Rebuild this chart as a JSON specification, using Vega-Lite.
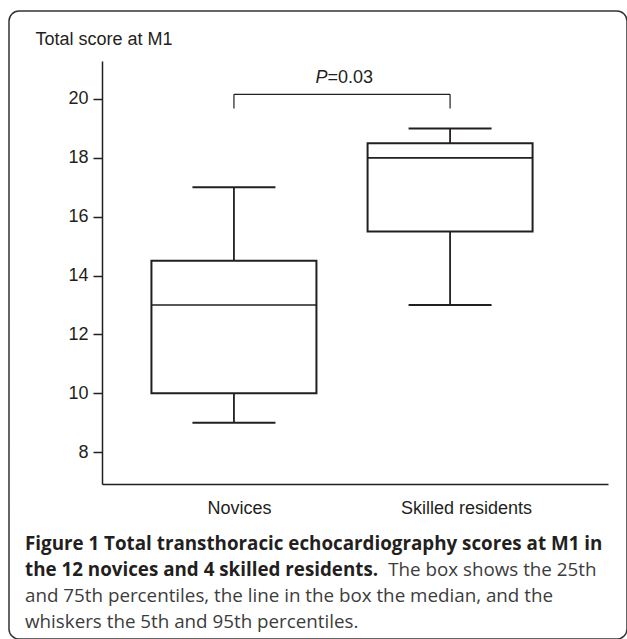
{
  "$schema": "https://vega.github.io/schema/vega-lite/v6.json",
  "width": 618,
  "height": 628,
  "autosize": {"type": "none"},
  "padding": {"left": 9, "top": 11, "right": 0, "bottom": 0},
  "background": "white",
  "config": {
    "view": {"stroke": "#333333", "strokeWidth": 1.5, "cornerRadius": 10, "fill": "white"},
    "font": "Liberation Sans"
  },
  "title": {
    "text": ["Figure 1 Total transthoracic echocardiography scores at M1 in", "the 12 novices and 4 skilled residents."],
    "subtitle": ["and 75th percentiles, the line in the box the median, and the", "whiskers the 5th and 95th percentiles."],
    "orient": "bottom",
    "anchor": "start",
    "frame": "group",
    "align": "left",
    "offset": -104.5,
    "dx": 16,
    "font": "Open Sans",
    "fontSize": 18.8,
    "fontWeight": "bold",
    "color": "#231f20",
    "lineHeight": 26,
    "subtitleFont": "Open Sans",
    "subtitleFontSize": 18.8,
    "subtitleFontWeight": "normal",
    "subtitleColor": "#3c3c3c",
    "subtitleLineHeight": 26,
    "subtitlePadding": 7.2
  },
  "datasets": {
    "boxes": [
      {"group": "Novices", "pos": 1, "lo": 9, "q1": 10, "med": 13, "q3": 14.5, "hi": 17},
      {"group": "Skilled residents", "pos": 2, "lo": 13, "q1": 15.5, "med": 18, "q3": 18.5, "hi": 19}
    ],
    "bracket": [{"pos": 1, "pos2": 2, "val": 20.16}],
    "legs": [
      {"pos": 1, "lo": 19.68, "hi": 20.16},
      {"pos": 2, "lo": 19.68, "hi": 20.16}
    ],
    "ptext": [{"pos": 1.5, "val": 20.53}]
  },
  "layer": [
    {
      "data": {"name": "boxes"},
      "mark": {"type": "rule", "color": "#231f20", "strokeWidth": 1.8},
      "encoding": {
        "x": {"field": "pos", "type": "quantitative",
          "scale": {"domain": [0.4127, 2.7075], "range": [93, 599], "nice": false, "zero": false},
          "axis": {"orient": "bottom", "offset": -155, "values": [1, 2], "labelExpr": "datum.value == 1 ? 'Novices' : 'Skilled residents'", "ticks": false, "tickSize": 0, "grid": false, "domainColor": "#231f20", "domainWidth": 1.5, "labelFont": "Liberation Sans", "labelFontSize": 18, "labelColor": "#231f20", "labelPadding": 15, "labelFlush": false, "labelOverlap": false, "labelOffset": {"condition": {"test": "datum.value == 2", "value": 16}, "value": 5}, "title": "The box shows the 25th", "titleX": 378.7, "titleY": 91.4, "titleAlign": "left", "titleBaseline": "alphabetic", "titleAngle": 0, "titleFont": "Open Sans", "titleFontSize": 18.8, "titleFontWeight": "normal", "titleColor": "#3c3c3c"}},
        "y": {"field": "lo", "type": "quantitative",
          "scale": {"domain": [6.918, 21.291], "range": [473, 50], "nice": false, "zero": false},
          "axis": {"orient": "left", "offset": -93, "values": [8, 10, 12, 14, 16, 18, 20], "tickSize": 9, "tickWidth": 1.5, "tickColor": "#231f20", "domainColor": "#231f20", "domainWidth": 1.5, "grid": false, "labelFont": "Liberation Sans", "labelFontSize": 18, "labelColor": "#231f20", "labelPadding": 5, "title": "Total score at M1", "titleAngle": 0, "titleAlign": "left", "titleBaseline": "alphabetic", "titleX": -67, "titleY": 33, "titleFont": "Liberation Sans", "titleFontSize": 18, "titleFontWeight": "normal", "titleColor": "#231f20"}},
        "y2": {"field": "hi"}
      }
    },
    {
      "data": {"name": "boxes"},
      "mark": {"type": "tick", "orient": "horizontal", "color": "#231f20", "size": 83, "thickness": 2, "opacity": 1},
      "encoding": {
        "x": {"field": "pos", "type": "quantitative",
          "scale": {"domain": [0.4127, 2.7075], "range": [93, 599], "nice": false, "zero": false},
          "axis": {"orient": "bottom", "offset": -155, "values": [1, 2], "labelExpr": "datum.value == 1 ? 'Novices' : 'Skilled residents'", "ticks": false, "tickSize": 0, "grid": false, "domainColor": "#231f20", "domainWidth": 1.5, "labelFont": "Liberation Sans", "labelFontSize": 18, "labelColor": "#231f20", "labelPadding": 15, "labelFlush": false, "labelOverlap": false, "labelOffset": {"condition": {"test": "datum.value == 2", "value": 16}, "value": 5}, "title": "The box shows the 25th", "titleX": 378.7, "titleY": 91.4, "titleAlign": "left", "titleBaseline": "alphabetic", "titleAngle": 0, "titleFont": "Open Sans", "titleFontSize": 18.8, "titleFontWeight": "normal", "titleColor": "#3c3c3c"}},
        "y": {"field": "lo", "type": "quantitative",
          "scale": {"domain": [6.918, 21.291], "range": [473, 50], "nice": false, "zero": false},
          "axis": {"orient": "left", "offset": -93, "values": [8, 10, 12, 14, 16, 18, 20], "tickSize": 9, "tickWidth": 1.5, "tickColor": "#231f20", "domainColor": "#231f20", "domainWidth": 1.5, "grid": false, "labelFont": "Liberation Sans", "labelFontSize": 18, "labelColor": "#231f20", "labelPadding": 5, "title": "Total score at M1", "titleAngle": 0, "titleAlign": "left", "titleBaseline": "alphabetic", "titleX": -67, "titleY": 33, "titleFont": "Liberation Sans", "titleFontSize": 18, "titleFontWeight": "normal", "titleColor": "#231f20"}}
      }
    },
    {
      "data": {"name": "boxes"},
      "mark": {"type": "tick", "orient": "horizontal", "color": "#231f20", "size": 83, "thickness": 2, "opacity": 1},
      "encoding": {
        "x": {"field": "pos", "type": "quantitative",
          "scale": {"domain": [0.4127, 2.7075], "range": [93, 599], "nice": false, "zero": false},
          "axis": {"orient": "bottom", "offset": -155, "values": [1, 2], "labelExpr": "datum.value == 1 ? 'Novices' : 'Skilled residents'", "ticks": false, "tickSize": 0, "grid": false, "domainColor": "#231f20", "domainWidth": 1.5, "labelFont": "Liberation Sans", "labelFontSize": 18, "labelColor": "#231f20", "labelPadding": 15, "labelFlush": false, "labelOverlap": false, "labelOffset": {"condition": {"test": "datum.value == 2", "value": 16}, "value": 5}, "title": "The box shows the 25th", "titleX": 378.7, "titleY": 91.4, "titleAlign": "left", "titleBaseline": "alphabetic", "titleAngle": 0, "titleFont": "Open Sans", "titleFontSize": 18.8, "titleFontWeight": "normal", "titleColor": "#3c3c3c"}},
        "y": {"field": "hi", "type": "quantitative",
          "scale": {"domain": [6.918, 21.291], "range": [473, 50], "nice": false, "zero": false},
          "axis": {"orient": "left", "offset": -93, "values": [8, 10, 12, 14, 16, 18, 20], "tickSize": 9, "tickWidth": 1.5, "tickColor": "#231f20", "domainColor": "#231f20", "domainWidth": 1.5, "grid": false, "labelFont": "Liberation Sans", "labelFontSize": 18, "labelColor": "#231f20", "labelPadding": 5, "title": "Total score at M1", "titleAngle": 0, "titleAlign": "left", "titleBaseline": "alphabetic", "titleX": -67, "titleY": 33, "titleFont": "Liberation Sans", "titleFontSize": 18, "titleFontWeight": "normal", "titleColor": "#231f20"}}
      }
    },
    {
      "data": {"name": "boxes"},
      "mark": {"type": "bar", "fill": "white", "stroke": "#231f20", "strokeWidth": 2, "size": 165, "strokeJoin": "miter"},
      "encoding": {
        "x": {"field": "pos", "type": "quantitative",
          "scale": {"domain": [0.4127, 2.7075], "range": [93, 599], "nice": false, "zero": false},
          "axis": {"orient": "bottom", "offset": -155, "values": [1, 2], "labelExpr": "datum.value == 1 ? 'Novices' : 'Skilled residents'", "ticks": false, "tickSize": 0, "grid": false, "domainColor": "#231f20", "domainWidth": 1.5, "labelFont": "Liberation Sans", "labelFontSize": 18, "labelColor": "#231f20", "labelPadding": 15, "labelFlush": false, "labelOverlap": false, "labelOffset": {"condition": {"test": "datum.value == 2", "value": 16}, "value": 5}, "title": "The box shows the 25th", "titleX": 378.7, "titleY": 91.4, "titleAlign": "left", "titleBaseline": "alphabetic", "titleAngle": 0, "titleFont": "Open Sans", "titleFontSize": 18.8, "titleFontWeight": "normal", "titleColor": "#3c3c3c"}},
        "y": {"field": "q1", "type": "quantitative",
          "scale": {"domain": [6.918, 21.291], "range": [473, 50], "nice": false, "zero": false},
          "axis": {"orient": "left", "offset": -93, "values": [8, 10, 12, 14, 16, 18, 20], "tickSize": 9, "tickWidth": 1.5, "tickColor": "#231f20", "domainColor": "#231f20", "domainWidth": 1.5, "grid": false, "labelFont": "Liberation Sans", "labelFontSize": 18, "labelColor": "#231f20", "labelPadding": 5, "title": "Total score at M1", "titleAngle": 0, "titleAlign": "left", "titleBaseline": "alphabetic", "titleX": -67, "titleY": 33, "titleFont": "Liberation Sans", "titleFontSize": 18, "titleFontWeight": "normal", "titleColor": "#231f20"}},
        "y2": {"field": "q3"}
      }
    },
    {
      "data": {"name": "boxes"},
      "mark": {"type": "tick", "orient": "horizontal", "color": "#231f20", "size": 165, "thickness": 1.6, "opacity": 1},
      "encoding": {
        "x": {"field": "pos", "type": "quantitative",
          "scale": {"domain": [0.4127, 2.7075], "range": [93, 599], "nice": false, "zero": false},
          "axis": {"orient": "bottom", "offset": -155, "values": [1, 2], "labelExpr": "datum.value == 1 ? 'Novices' : 'Skilled residents'", "ticks": false, "tickSize": 0, "grid": false, "domainColor": "#231f20", "domainWidth": 1.5, "labelFont": "Liberation Sans", "labelFontSize": 18, "labelColor": "#231f20", "labelPadding": 15, "labelFlush": false, "labelOverlap": false, "labelOffset": {"condition": {"test": "datum.value == 2", "value": 16}, "value": 5}, "title": "The box shows the 25th", "titleX": 378.7, "titleY": 91.4, "titleAlign": "left", "titleBaseline": "alphabetic", "titleAngle": 0, "titleFont": "Open Sans", "titleFontSize": 18.8, "titleFontWeight": "normal", "titleColor": "#3c3c3c"}},
        "y": {"field": "med", "type": "quantitative",
          "scale": {"domain": [6.918, 21.291], "range": [473, 50], "nice": false, "zero": false},
          "axis": {"orient": "left", "offset": -93, "values": [8, 10, 12, 14, 16, 18, 20], "tickSize": 9, "tickWidth": 1.5, "tickColor": "#231f20", "domainColor": "#231f20", "domainWidth": 1.5, "grid": false, "labelFont": "Liberation Sans", "labelFontSize": 18, "labelColor": "#231f20", "labelPadding": 5, "title": "Total score at M1", "titleAngle": 0, "titleAlign": "left", "titleBaseline": "alphabetic", "titleX": -67, "titleY": 33, "titleFont": "Liberation Sans", "titleFontSize": 18, "titleFontWeight": "normal", "titleColor": "#231f20"}}
      }
    },
    {
      "data": {"name": "bracket"},
      "mark": {"type": "rule", "color": "#231f20", "strokeWidth": 1.2},
      "encoding": {
        "x": {"field": "pos", "type": "quantitative",
          "scale": {"domain": [0.4127, 2.7075], "range": [93, 599], "nice": false, "zero": false},
          "axis": {"orient": "bottom", "offset": -155, "values": [1, 2], "labelExpr": "datum.value == 1 ? 'Novices' : 'Skilled residents'", "ticks": false, "tickSize": 0, "grid": false, "domainColor": "#231f20", "domainWidth": 1.5, "labelFont": "Liberation Sans", "labelFontSize": 18, "labelColor": "#231f20", "labelPadding": 15, "labelFlush": false, "labelOverlap": false, "labelOffset": {"condition": {"test": "datum.value == 2", "value": 16}, "value": 5}, "title": "The box shows the 25th", "titleX": 378.7, "titleY": 91.4, "titleAlign": "left", "titleBaseline": "alphabetic", "titleAngle": 0, "titleFont": "Open Sans", "titleFontSize": 18.8, "titleFontWeight": "normal", "titleColor": "#3c3c3c"}},
        "x2": {"field": "pos2"},
        "y": {"field": "val", "type": "quantitative",
          "scale": {"domain": [6.918, 21.291], "range": [473, 50], "nice": false, "zero": false},
          "axis": {"orient": "left", "offset": -93, "values": [8, 10, 12, 14, 16, 18, 20], "tickSize": 9, "tickWidth": 1.5, "tickColor": "#231f20", "domainColor": "#231f20", "domainWidth": 1.5, "grid": false, "labelFont": "Liberation Sans", "labelFontSize": 18, "labelColor": "#231f20", "labelPadding": 5, "title": "Total score at M1", "titleAngle": 0, "titleAlign": "left", "titleBaseline": "alphabetic", "titleX": -67, "titleY": 33, "titleFont": "Liberation Sans", "titleFontSize": 18, "titleFontWeight": "normal", "titleColor": "#231f20"}}
      }
    },
    {
      "data": {"name": "legs"},
      "mark": {"type": "rule", "color": "#231f20", "strokeWidth": 1.2},
      "encoding": {
        "x": {"field": "pos", "type": "quantitative",
          "scale": {"domain": [0.4127, 2.7075], "range": [93, 599], "nice": false, "zero": false},
          "axis": {"orient": "bottom", "offset": -155, "values": [1, 2], "labelExpr": "datum.value == 1 ? 'Novices' : 'Skilled residents'", "ticks": false, "tickSize": 0, "grid": false, "domainColor": "#231f20", "domainWidth": 1.5, "labelFont": "Liberation Sans", "labelFontSize": 18, "labelColor": "#231f20", "labelPadding": 15, "labelFlush": false, "labelOverlap": false, "labelOffset": {"condition": {"test": "datum.value == 2", "value": 16}, "value": 5}, "title": "The box shows the 25th", "titleX": 378.7, "titleY": 91.4, "titleAlign": "left", "titleBaseline": "alphabetic", "titleAngle": 0, "titleFont": "Open Sans", "titleFontSize": 18.8, "titleFontWeight": "normal", "titleColor": "#3c3c3c"}},
        "y": {"field": "lo", "type": "quantitative",
          "scale": {"domain": [6.918, 21.291], "range": [473, 50], "nice": false, "zero": false},
          "axis": {"orient": "left", "offset": -93, "values": [8, 10, 12, 14, 16, 18, 20], "tickSize": 9, "tickWidth": 1.5, "tickColor": "#231f20", "domainColor": "#231f20", "domainWidth": 1.5, "grid": false, "labelFont": "Liberation Sans", "labelFontSize": 18, "labelColor": "#231f20", "labelPadding": 5, "title": "Total score at M1", "titleAngle": 0, "titleAlign": "left", "titleBaseline": "alphabetic", "titleX": -67, "titleY": 33, "titleFont": "Liberation Sans", "titleFontSize": 18, "titleFontWeight": "normal", "titleColor": "#231f20"}},
        "y2": {"field": "hi"}
      }
    },
    {
      "data": {"name": "ptext"},
      "mark": {"type": "text", "text": "P", "fontStyle": "italic", "font": "Liberation Sans", "fontSize": 18, "align": "left", "baseline": "alphabetic", "dx": -26.5, "color": "#231f20"},
      "encoding": {
        "x": {"field": "pos", "type": "quantitative",
          "scale": {"domain": [0.4127, 2.7075], "range": [93, 599], "nice": false, "zero": false},
          "axis": {"orient": "bottom", "offset": -155, "values": [1, 2], "labelExpr": "datum.value == 1 ? 'Novices' : 'Skilled residents'", "ticks": false, "tickSize": 0, "grid": false, "domainColor": "#231f20", "domainWidth": 1.5, "labelFont": "Liberation Sans", "labelFontSize": 18, "labelColor": "#231f20", "labelPadding": 15, "labelFlush": false, "labelOverlap": false, "labelOffset": {"condition": {"test": "datum.value == 2", "value": 16}, "value": 5}, "title": "The box shows the 25th", "titleX": 378.7, "titleY": 91.4, "titleAlign": "left", "titleBaseline": "alphabetic", "titleAngle": 0, "titleFont": "Open Sans", "titleFontSize": 18.8, "titleFontWeight": "normal", "titleColor": "#3c3c3c"}},
        "y": {"field": "val", "type": "quantitative",
          "scale": {"domain": [6.918, 21.291], "range": [473, 50], "nice": false, "zero": false},
          "axis": {"orient": "left", "offset": -93, "values": [8, 10, 12, 14, 16, 18, 20], "tickSize": 9, "tickWidth": 1.5, "tickColor": "#231f20", "domainColor": "#231f20", "domainWidth": 1.5, "grid": false, "labelFont": "Liberation Sans", "labelFontSize": 18, "labelColor": "#231f20", "labelPadding": 5, "title": "Total score at M1", "titleAngle": 0, "titleAlign": "left", "titleBaseline": "alphabetic", "titleX": -67, "titleY": 33, "titleFont": "Liberation Sans", "titleFontSize": 18, "titleFontWeight": "normal", "titleColor": "#231f20"}}
      }
    },
    {
      "data": {"name": "ptext"},
      "mark": {"type": "text", "text": "=0.03", "font": "Liberation Sans", "fontSize": 18, "align": "left", "baseline": "alphabetic", "dx": -14.5, "color": "#231f20"},
      "encoding": {
        "x": {"field": "pos", "type": "quantitative",
          "scale": {"domain": [0.4127, 2.7075], "range": [93, 599], "nice": false, "zero": false},
          "axis": {"orient": "bottom", "offset": -155, "values": [1, 2], "labelExpr": "datum.value == 1 ? 'Novices' : 'Skilled residents'", "ticks": false, "tickSize": 0, "grid": false, "domainColor": "#231f20", "domainWidth": 1.5, "labelFont": "Liberation Sans", "labelFontSize": 18, "labelColor": "#231f20", "labelPadding": 15, "labelFlush": false, "labelOverlap": false, "labelOffset": {"condition": {"test": "datum.value == 2", "value": 16}, "value": 5}, "title": "The box shows the 25th", "titleX": 378.7, "titleY": 91.4, "titleAlign": "left", "titleBaseline": "alphabetic", "titleAngle": 0, "titleFont": "Open Sans", "titleFontSize": 18.8, "titleFontWeight": "normal", "titleColor": "#3c3c3c"}},
        "y": {"field": "val", "type": "quantitative",
          "scale": {"domain": [6.918, 21.291], "range": [473, 50], "nice": false, "zero": false},
          "axis": {"orient": "left", "offset": -93, "values": [8, 10, 12, 14, 16, 18, 20], "tickSize": 9, "tickWidth": 1.5, "tickColor": "#231f20", "domainColor": "#231f20", "domainWidth": 1.5, "grid": false, "labelFont": "Liberation Sans", "labelFontSize": 18, "labelColor": "#231f20", "labelPadding": 5, "title": "Total score at M1", "titleAngle": 0, "titleAlign": "left", "titleBaseline": "alphabetic", "titleX": -67, "titleY": 33, "titleFont": "Liberation Sans", "titleFontSize": 18, "titleFontWeight": "normal", "titleColor": "#231f20"}}
      }
    }
  ]
}
